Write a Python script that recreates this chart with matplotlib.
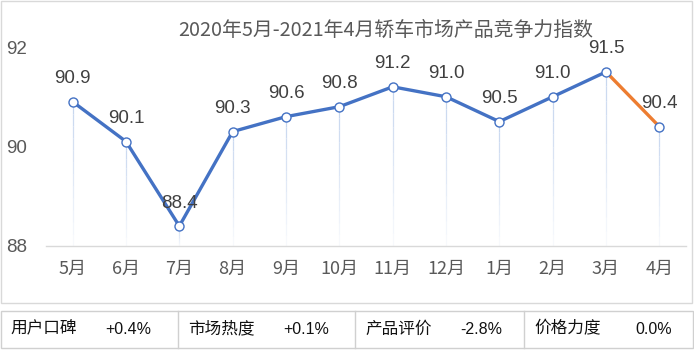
import matplotlib
matplotlib.use("Agg")
import matplotlib.pyplot as plt
from matplotlib.patches import Rectangle
from matplotlib.lines import Line2D
import numpy as np

plt.rcParams['font.family'] = ['Noto Sans CJK SC', 'DejaVu Sans']

title = "2020年5月-2021年4月轿车市场产品竞争力指数"
months = ["5月", "6月", "7月", "8月", "9月", "10月", "11月", "12月", "1月", "2月", "3月", "4月"]
index_vals = [90.9, 90.1, 88.4, 90.3, 90.6, 90.8, 91.2, 91.0, 90.5, 91.0, 91.5, 90.4]
y_ticks = [88, 90, 92]

table_names = ["用户口碑", "市场热度", "产品评价", "价格力度"]
table_changes = ["+0.4%", "+0.1%", "-2.8%", "0.0%"]

W, H = 694, 350
fig = plt.figure(figsize=(W / 100, H / 100), dpi=100)
BLUE = "#4472C4"
ORANGE = "#ED7D31"
GREY_TXT = "#595959"
NUM_FONT = ["Liberation Sans", "DejaVu Sans"]

def fx(px):
    return px / W

def fy(py):
    return 1 - py / H

# chart frame and table frame
fig.add_artist(Rectangle((fx(1), fy(303)), fx(691), 302 / H, transform=fig.transFigure,
                         fill=False, edgecolor="#d9d9d9", linewidth=1))
fig.add_artist(Rectangle((fx(0.5), fy(348)), fx(692.5), 37 / H, transform=fig.transFigure,
                         fill=False, edgecolor="#d0d0d0", linewidth=1))
for xd in [178, 355, 524]:
    fig.add_artist(Line2D([fx(xd), fx(xd)], [fy(311), fy(348)], transform=fig.transFigure,
                          color="#d0d0d0", linewidth=1))

ax = fig.add_axes([fx(46), fy(246), fx(640), (246 - 47) / H])
x = np.arange(len(months))
ax.set_xlim(-0.5, len(months) - 0.5)
ax.set_ylim(88, 92)

# drop lines from each point, fading toward the axis
for xi, v in zip(x, index_vals):
    steps = 12
    ys = np.linspace(v, 88, steps + 1)
    for k in range(steps):
        a = 0.9 * (1 - k / steps) + 0.05
        ax.plot([xi, xi], [ys[k], ys[k + 1]], color="#c5d5ee", alpha=a, linewidth=0.9,
                solid_capstyle="butt", zorder=1)

ax.plot(x[:-1], index_vals[:-1], color=BLUE, linewidth=2.4, zorder=2, solid_capstyle="round")
ax.plot(x[-2:], index_vals[-2:], color=ORANGE, linewidth=2.4, zorder=2, solid_capstyle="round")
ax.plot(x, index_vals, linestyle="none", marker="o", markersize=6.5, markerfacecolor="white",
        markeredgecolor=BLUE, markeredgewidth=1, zorder=3, clip_on=False)

for xi, v in zip(x, index_vals):
    ax.annotate(f"{v:.1f}", (xi, v), xytext=(0, 10.5), textcoords="offset points",
                ha="center", va="bottom", fontsize=13.5, color="#404040",
                family=NUM_FONT, annotation_clip=False)

for s in ["top", "right", "left"]:
    ax.spines[s].set_visible(False)
ax.spines["bottom"].set_color("#d9d9d9")
ax.spines["bottom"].set_linewidth(1)
ax.set_xticks(x, months)
ax.set_yticks(y_ticks, [str(t) for t in y_ticks])
ax.tick_params(axis="x", length=0, labelsize=13, labelcolor=GREY_TXT, pad=10)
ax.tick_params(axis="y", length=0, labelsize=13.5, labelcolor=GREY_TXT, pad=13.5)
for lbl in ax.get_yticklabels():
    lbl.set_family(NUM_FONT)

fig.text(fx(386), fy(30), title, ha="center", va="center", fontsize=14.3, color=GREY_TXT)

# indicator table
name_x = [10, 188, 365, 534]
val_x = [151, 329, 502, 672]
for nx, vx, name, chg in zip(name_x, val_x, table_names, table_changes):
    fig.text(fx(nx), fy(329), name, ha="left", va="center", fontsize=12, color="#111111")
    fig.text(fx(vx), fy(329), chg, ha="right", va="center", fontsize=11.5, color="#111111",
             family=["Liberation Sans Narrow", "Liberation Sans", "DejaVu Sans"])

fig.savefig("out.png", dpi=100)
